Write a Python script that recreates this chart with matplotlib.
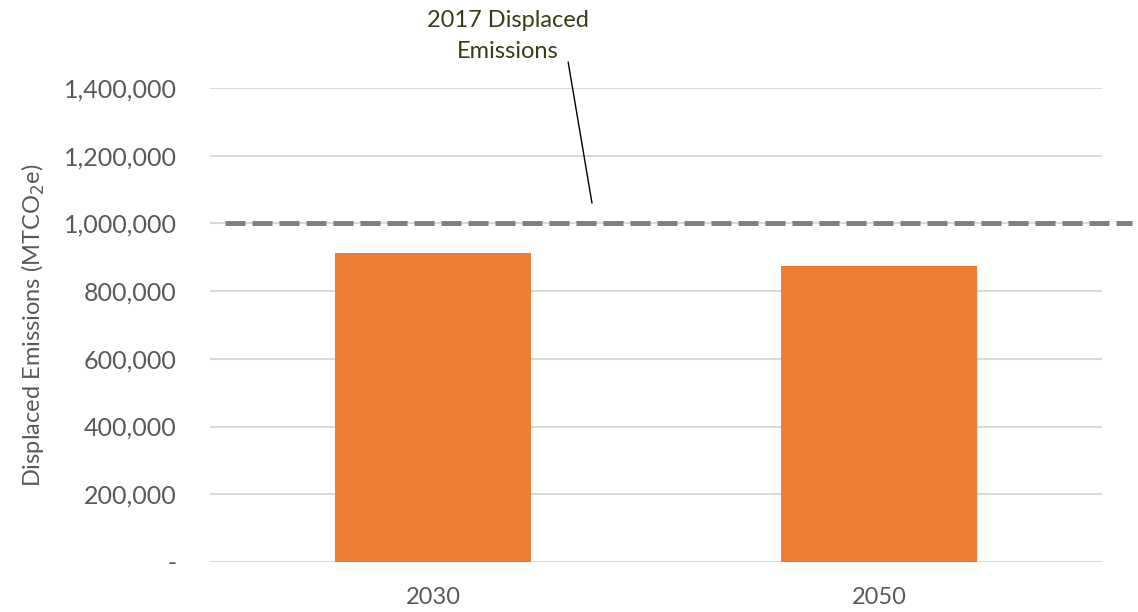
import matplotlib
matplotlib.use("Agg")
import matplotlib.pyplot as plt
from matplotlib.ticker import FuncFormatter, MultipleLocator

categories = ["2030", "2050"]
values = [913000, 875000]
reference_2017 = 1000000
annotation_text = "2017 Displaced\nEmissions"
ylabel = "Displaced Emissions (MTCO$_2$e)"

plt.rcParams['font.family'] = ['Lato', 'DejaVu Sans']

fig = plt.figure(figsize=(11.38, 6.12), dpi=100)
ax = fig.add_axes([0.1845, 0.0817, 0.7839, 0.7745])

x = list(range(len(categories)))
ax.bar(x, values, width=0.44, color="#ED7D31", zorder=2)
ax.set_xlim(-0.5, len(categories) - 0.5)
ax.set_ylim(0, 1400000)
ax.yaxis.set_major_locator(MultipleLocator(200000))
ax.yaxis.set_major_formatter(FuncFormatter(lambda v, p: "-" if v == 0 else f"{int(v):,}"))
ax.grid(axis="y", color="#D9D9D9", linewidth=1.5, zorder=0)
ax.set_axisbelow(True)
for s in ax.spines.values():
    s.set_visible(False)
ax.tick_params(axis="both", length=0, labelsize=17, colors="#595959")
ax.tick_params(axis="y", labelsize=18, pad=24)
ax.tick_params(axis="x", pad=18)
ax.set_xticks(x)
ax.set_xticklabels(categories)
ax.set_ylabel(ylabel, fontsize=17, color="#595959", labelpad=12)

ax.axhline(reference_2017, xmin=0.017, xmax=1.034, color="#808080", lw=3.6,
           dashes=(4, 1.4), dash_capstyle="butt", clip_on=False, zorder=3)

ax.text(0.168, 1554000, annotation_text, ha="center", va="center", fontsize=17,
        color="#3C3C14", linespacing=1.6, clip_on=False)
ax.annotate("", xy=(0.3565, 1060000), xytext=(0.303, 1477000),
            arrowprops=dict(arrowstyle="-", lw=1, color="black",
                            shrinkA=0, shrinkB=0),
            annotation_clip=False)

fig.savefig("out.png", dpi=100)
